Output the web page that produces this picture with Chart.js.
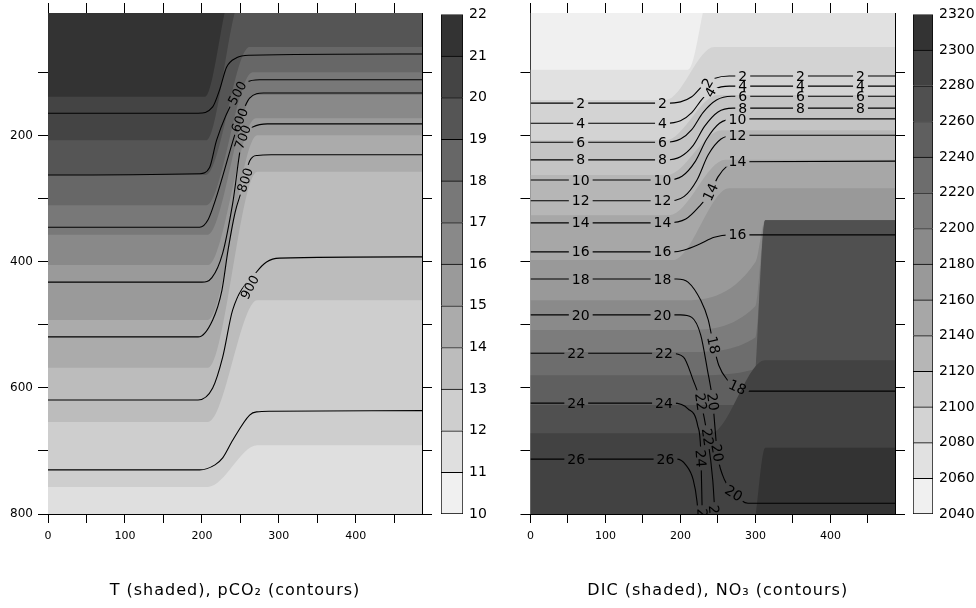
<!DOCTYPE html>
<html>
<head>
<meta charset="utf-8">
<title>T / pCO2 and DIC / NO3 sections</title>
<script src="https://cdn.jsdelivr.net/npm/chart.js@4.4.1/dist/chart.umd.min.js"></script>
<style>
  html, body { margin: 0; padding: 0; background: #ffffff; }
  #page { position: relative; width: 976px; height: 608px; overflow: hidden; background: #fff; }
  #page canvas { position: absolute; top: 0; }
</style>
</head>
<body>
<div id="page">
  <canvas id="tChart" width="432" height="608" style="left:0px"></canvas>
  <canvas id="tBar" width="80" height="608" style="left:441px"></canvas>
  <canvas id="dicChart" width="385" height="608" style="left:520px"></canvas>
  <canvas id="dicBar" width="63" height="608" style="left:913px"></canvas>
</div>
<script>
// axes (distance along section, depth)
const xMax = 486;
const depthMin = 5, depthMax = 800;
const xTicks = [0, 50, 100, 150, 200, 250, 300, 350, 400, 450];
const depthTicks = [100, 200, 300, 400, 500, 600, 700, 800];

// colour bar levels
const tLevels = [10, 11, 12, 13, 14, 15, 16, 17, 18, 19, 20, 21, 22];
const dicLevels = [2040, 2060, 2080, 2100, 2120, 2140, 2160, 2180, 2200, 2220, 2240, 2260, 2280, 2300, 2320];

// T shading: level of each boundary and its course [x, depth]
const tShadeLevels = [21, 20, 19, 18, 17, 16, 15, 14, 13, 12];
const tShadeLines = [
  [[0, 138], [204, 138], [240, -30], [486, -30]],
  [[0, 207], [206, 207], [252, -20], [486, -20]],
  [[0, 262], [205, 262], [262, 59], [486, 59]],
  [[0, 310], [206, 310], [266, 99], [486, 99]],
  [[0, 357], [207, 357], [268, 135], [486, 135]],
  [[0, 405], [208, 405], [270, 172], [486, 172]],
  [[0, 492], [208, 492], [272, 199], [486, 199]],
  [[0, 568], [208, 568], [272, 257], [486, 257]],
  [[0, 654], [208, 654], [272, 461], [486, 461]],
  [[0, 757], [208, 757], [272, 691], [486, 691]]
];

// pCO2 contours
const pco2Levels = [400, 500, 600, 700, 800, 900, 1000];
const pco2Lines = [
  [[0, 164], [195, 164], [214, 154], [223, 127], [232, 91], [245, 76], [262, 72], [486, 70]],
  [[0, 262], [197, 260], [210, 250], [219, 207], [246, 132], [258, 115], [275, 111], [486, 111]],
  [[0, 345], [197, 345], [208, 333], [218, 300], [249, 175], [262, 140], [280, 132], [486, 132]],
  [[0, 432], [200, 432], [213, 425], [227, 386], [240, 307], [253, 202], [266, 186], [285, 181], [486, 181]],
  [[0, 519], [195, 519], [214, 492], [226, 445], [234, 381], [243, 322], [252, 285], [262, 240], [272, 231], [290, 230], [486, 230]],
  [[0, 619], [195, 619], [214, 600], [227, 551], [240, 476], [271, 416], [284, 400], [301, 394], [486, 392]],
  [[0, 730], [197, 730], [217, 722], [227, 711], [240, 683], [262, 643], [271, 638], [290, 637], [486, 636]]
];
// [text, x, depth, angle]
const pco2Labels = [
  ['500', 246, 132, -62], ['600', 249, 175, -68], ['700', 253, 202, -70],
  ['800', 256, 270, -72], ['900', 262, 440, -62]
];

// DIC shading
const dicShadeLevels = [2060, 2080, 2100, 2120, 2140, 2160, 2180, 2200, 2220, 2240, 2260, 2280, 2300];
const dicShadeLines = [
  [[0, 95], [210, 95], [242, -40], [486, -40]],
  [[0, 143], [180, 143], [245, 59], [486, 59]],
  [[0, 207], [180, 207], [250, 135], [486, 135]],
  [[0, 262], [182, 262], [255, 191], [486, 191]],
  [[0, 326], [185, 326], [260, 238], [486, 238]],
  [[0, 397], [190, 397], [265, 283], [486, 283]],
  [[0, 461], [195, 461], [300, 400], [313, 334], [486, 334]],
  [[0, 508], [205, 508], [300, 470], [313, 334], [486, 334]],
  [[0, 543], [210, 543], [300, 520], [313, 334], [486, 334]],
  [[0, 580], [215, 580], [300, 570], [313, 334], [486, 334]],
  [[0, 627], [295, 627], [313, 334], [486, 334]],
  [[0, 672], [240, 672], [313, 556], [486, 556]],
  [[0, 830], [295, 830], [313, 695], [486, 695]]
];

// NO3 contours
const no3Levels = [2, 4, 6, 8, 10, 12, 14, 16, 18, 20, 22, 24, 26];
const no3Lines = [
  [[0, 148], [180, 148], [200, 146], [215, 138], [230, 120], [245, 109], [265, 105], [486, 105]],
  [[0, 180], [180, 180], [200, 176], [215, 163], [230, 140], [245, 126], [265, 121], [486, 121]],
  [[0, 210], [180, 210], [200, 205], [215, 190], [230, 163], [248, 143], [268, 137], [486, 137]],
  [[0, 238], [180, 238], [200, 233], [217, 215], [232, 185], [250, 162], [270, 156], [486, 156]],
  [[0, 270], [180, 270], [202, 264], [220, 240], [235, 205], [252, 180], [272, 173], [486, 173]],
  [[0, 303], [182, 303], [205, 296], [222, 270], [237, 230], [254, 205], [274, 199], [486, 199]],
  [[0, 338], [183, 338], [207, 332], [225, 312], [240, 289], [250, 265], [262, 248], [276, 241], [486, 240]],
  [[0, 384], [190, 384], [205, 381], [225, 372], [245, 361], [265, 357], [486, 357]],
  [[0, 427], [195, 427], [210, 432], [227, 461], [237, 492], [244, 532], [251, 564], [263, 588], [276, 599], [290, 605], [486, 605]],
  [[0, 484], [200, 484], [215, 488], [227, 516], [236, 572], [243, 622], [249, 703], [256, 738], [271, 767], [290, 783], [486, 783]],
  [[0, 545], [187, 545], [204, 551], [217, 588], [227, 622], [236, 678], [243, 746], [246, 800], [250, 850]],
  [[0, 624], [190, 624], [210, 633], [223, 660], [227, 700], [229, 800], [230, 850]],
  [[0, 713], [195, 713], [207, 722], [217, 746], [222, 780], [224, 810], [226, 850]]
];
const no3Labels = [
  ['2', 67, 148, 0], ['2', 176, 148, 0], ['4', 67, 180, 0], ['4', 176, 180, 0],
  ['6', 67, 210, 0], ['6', 176, 210, 0], ['8', 67, 238, 0], ['8', 176, 238, 0],
  ['10', 67, 270, 0], ['10', 176, 270, 0], ['12', 67, 303, 0], ['12', 176, 303, 0],
  ['14', 67, 338, 0], ['14', 176, 338, 0], ['16', 67, 384, 0], ['16', 176, 384, 0],
  ['18', 67, 427, 0], ['18', 176, 427, 0], ['20', 67, 484, 0], ['20', 176, 484, 0],
  ['22', 61, 545, 0], ['22', 178, 545, 0], ['24', 61, 624, 0], ['24', 178, 624, 0],
  ['26', 61, 713, 0], ['26', 180, 713, 0],
  ['2', 236, 116, -60], ['4', 240, 131, -60], ['14', 240, 289, -65],
  ['2', 283, 105, 0], ['2', 360, 105, 0], ['2', 440, 105, 0],
  ['4', 283, 121, 0], ['4', 360, 121, 0], ['4', 440, 121, 0],
  ['6', 283, 137, 0], ['6', 360, 137, 0], ['6', 440, 137, 0],
  ['8', 283, 156, 0], ['8', 360, 156, 0], ['8', 440, 156, 0],
  ['10', 276, 173, 0], ['12', 276, 199, 0], ['14', 276, 240, 0], ['16', 276, 357, 0],
  ['18', 244, 532, 78], ['18', 276, 599, 25],
  ['22', 227, 622, 82], ['20', 243, 622, 82], ['22', 236, 678, 82], ['20', 249, 703, 80],
  ['24', 227, 712, 86], ['20', 271, 767, 32], ['22', 245, 800, 85], ['24', 229, 805, 88]
];

Chart.defaults.font.family = '"DejaVu Sans", sans-serif';
Chart.defaults.color = '#000';
Chart.defaults.animation = false;

function gray(i, n) {
  const g = Math.round(240 - i * (240 - 51) / (n - 1));
  return 'rgb(' + g + ',' + g + ',' + g + ')';
}
const toXY = pts => pts.map(p => ({ x: p[0], y: p[1] }));

// fill the section with the top colour, then each boundary downwards
function paintField(chart, topColor) {
  const ctx = chart.ctx, a = chart.chartArea;
  ctx.fillStyle = topColor;
  ctx.fillRect(a.left, a.top, a.width, a.height);
  chart.data.datasets.forEach((ds, i) => {
    if (!ds.shade) return;
    const line = chart.getDatasetMeta(i).dataset;
    line.updateControlPoints(a, 'x');
    const pts = line.points;
    ctx.beginPath();
    line.path(ctx);
    ctx.lineTo(pts[pts.length - 1].x, a.bottom + 2);
    ctx.lineTo(pts[0].x, a.bottom + 2);
    ctx.closePath();
    ctx.fillStyle = ds.shade;
    ctx.fill();
  });
}

function labelBoxes(chart, o) {
  const ctx = chart.ctx;
  const xs = chart.scales.x, ys = chart.scales.y;
  ctx.save();
  ctx.font = o.labelSize + 'px "DejaVu Sans", sans-serif';
  const boxes = o.labels.map(([txt, x, d, ang]) => ({
    txt, px: xs.getPixelForValue(x), py: ys.getPixelForValue(d),
    rad: ang * Math.PI / 180, w: ctx.measureText(txt).width
  }));
  ctx.restore();
  return boxes;
}

function makeSection(id, o) {
  const datasets = [];
  o.shades.forEach((pts, k) => datasets.push({
    data: toXY(pts), shade: o.shadeColors[k], showLine: true, borderWidth: 0,
    pointRadius: 0, cubicInterpolationMode: 'monotone', xAxisID: 'x', yAxisID: 'y'
  }));
  o.contours.forEach(pts => datasets.push({
    data: toXY(pts), showLine: true, borderColor: '#000', borderWidth: 1.1,
    pointRadius: 0, cubicInterpolationMode: 'monotone', xAxisID: 'x', yAxisID: 'y'
  }));

  const xTickList = s => { s.ticks = xTicks.map(v => ({ value: v })); };
  const yTickList = s => { s.ticks = depthTicks.map(v => ({ value: v })); };
  const marks = { drawOnChartArea: false, tickLength: 10, color: '#000', lineWidth: 1 };
  const edge = { display: true, color: '#000', width: 1 };

  return new Chart(document.getElementById(id), {
    type: 'scatter',
    data: { datasets },
    options: {
      responsive: false,
      layout: { padding: { top: 3, left: 0, right: 0, bottom: 0 } },
      elements: { line: { capBezierPoints: false } },
      plugins: { legend: { display: false }, tooltip: { enabled: false } },
      scales: {
        x: {
          type: 'linear', position: 'bottom', min: 0, max: xMax, z: 1,
          afterBuildTicks: xTickList, afterFit: s => { s.height = 94; },
          ticks: { autoSkip: false, maxRotation: 0, padding: 7, font: { size: 11 },
                   callback: v => (v % 100 === 0 ? String(v) : '') },
          grid: Object.assign({}, marks, { tickLength: 9 }), border: edge
        },
        xT: {
          type: 'linear', position: 'top', min: 0, max: xMax, z: 1,
          afterBuildTicks: xTickList, afterFit: s => { s.height = 10; },
          ticks: { display: false }, grid: marks, border: edge
        },
        y: {
          type: 'linear', position: 'left', reverse: true, min: depthMin, max: depthMax, z: 1,
          afterBuildTicks: yTickList, afterFit: s => { s.width = o.yWidth; },
          ticks: { display: o.yLabels, autoSkip: false, padding: 5, font: { size: 12 },
                   callback: v => (v % 200 === 0 ? String(v) : '') },
          grid: marks, border: edge
        },
        yR: {
          type: 'linear', position: 'right', reverse: true, min: depthMin, max: depthMax, z: 1,
          afterBuildTicks: yTickList, afterFit: s => { s.width = 10; },
          ticks: { display: false }, grid: marks, border: edge
        }
      }
    },
    plugins: [{
      id: 'field',
      beforeDatasetsDraw(chart) {
        const ctx = chart.ctx, a = chart.chartArea;
        ctx.save();
        ctx.beginPath();
        ctx.rect(a.left, a.top, a.width, a.height);
        ctx.clip();
        paintField(chart, o.topColor);
        ctx.restore();
      }
    }, {
      // contour lines leave a gap where their label sits
      id: 'contourGaps',
      beforeDatasetDraw(chart, args) {
        if (chart.data.datasets[args.index].shade) return;
        const ctx = chart.ctx;
        const h = o.labelSize * 0.8;
        ctx.save();
        ctx.beginPath();
        ctx.rect(0, 0, chart.width, chart.height);
        labelBoxes(chart, o).forEach(p => {
          ctx.save();
          ctx.translate(p.px, p.py);
          ctx.rotate(p.rad);
          ctx.rect(-p.w / 2 - 3, -h / 2, p.w + 6, h);
          ctx.restore();
        });
        ctx.clip('evenodd');
      },
      afterDatasetDraw(chart, args) {
        if (chart.data.datasets[args.index].shade) return;
        chart.ctx.restore();
      },
      afterDatasetsDraw(chart) {
        const ctx = chart.ctx, a = chart.chartArea;
        ctx.save();
        ctx.beginPath();
        ctx.rect(a.left, a.top, a.width, a.height);
        ctx.clip();
        ctx.font = o.labelSize + 'px "DejaVu Sans", sans-serif';
        ctx.fillStyle = '#000';
        ctx.textAlign = 'center';
        ctx.textBaseline = 'middle';
        labelBoxes(chart, o).forEach(p => {
          ctx.save();
          ctx.translate(p.px, p.py);
          ctx.rotate(p.rad);
          ctx.fillText(p.txt, 0, 1);
          ctx.restore();
        });
        ctx.restore();
      }
    }, {
      id: 'caption',
      afterDraw(chart) {
        const ctx = chart.ctx, a = chart.chartArea;
        ctx.save();
        ctx.font = '16px "DejaVu Sans", sans-serif';
        ctx.letterSpacing = '1px';
        ctx.fillStyle = '#000';
        ctx.textAlign = 'center';
        ctx.textBaseline = 'alphabetic';
        ctx.fillText(o.title, (a.left + a.right) / 2 + o.titleShift, 595);
        ctx.restore();
      }
    }]
  });
}

function makeColorBar(id, levels, axisWidth) {
  const n = levels.length - 1;
  const datasets = [];
  for (let i = 0; i < n; i++) {
    datasets.push({
      data: [[levels[i], levels[i + 1]]],
      backgroundColor: gray(i, n),
      borderColor: '#000',
      borderWidth: { top: 1, left: 1, right: 1, bottom: i === 0 ? 1 : 0 },
      borderSkipped: false,
      grouped: false,
      barPercentage: 1,
      categoryPercentage: 1
    });
  }
  return new Chart(document.getElementById(id), {
    type: 'bar',
    data: { labels: [''], datasets },
    options: {
      responsive: false,
      layout: { padding: { top: 13, bottom: 94, left: 0, right: 0 } },
      plugins: { legend: { display: false }, tooltip: { enabled: false } },
      scales: {
        x: { display: false },
        y: {
          position: 'right', min: levels[0], max: levels[n],
          afterBuildTicks: s => { s.ticks = levels.map(v => ({ value: v })); },
          afterFit: s => { s.width = axisWidth; },
          ticks: { padding: 6, font: { size: 14 }, autoSkip: false, callback: v => String(v) },
          grid: { display: false, drawTicks: false },
          border: { display: false }
        }
      }
    }
  });
}

makeSection('tChart', {
  shades: tShadeLines,
  shadeColors: tShadeLevels.map(L => gray(L - 1 - tLevels[0], tLevels.length - 1)),
  topColor: gray(tLevels.length - 2, tLevels.length - 1),
  contours: pco2Lines,
  labels: pco2Labels,
  labelSize: 13,
  yLabels: true,
  yWidth: 48,
  title: 'T (shaded), pCO\u2082 (contours)',
  titleShift: 0
});
makeColorBar('tBar', tLevels, 58);

makeSection('dicChart', {
  shades: dicShadeLines,
  shadeColors: dicShadeLevels.map(L => gray((L - dicLevels[0]) / 20, dicLevels.length - 1)),
  topColor: gray(0, dicLevels.length - 1),
  contours: no3Lines,
  labels: no3Labels,
  labelSize: 14,
  yLabels: false,
  yWidth: 10,
  title: 'DIC (shaded), NO\u2083 (contours)',
  titleShift: 5
});
makeColorBar('dicBar', dicLevels, 43);
</script>
</body>
</html>
